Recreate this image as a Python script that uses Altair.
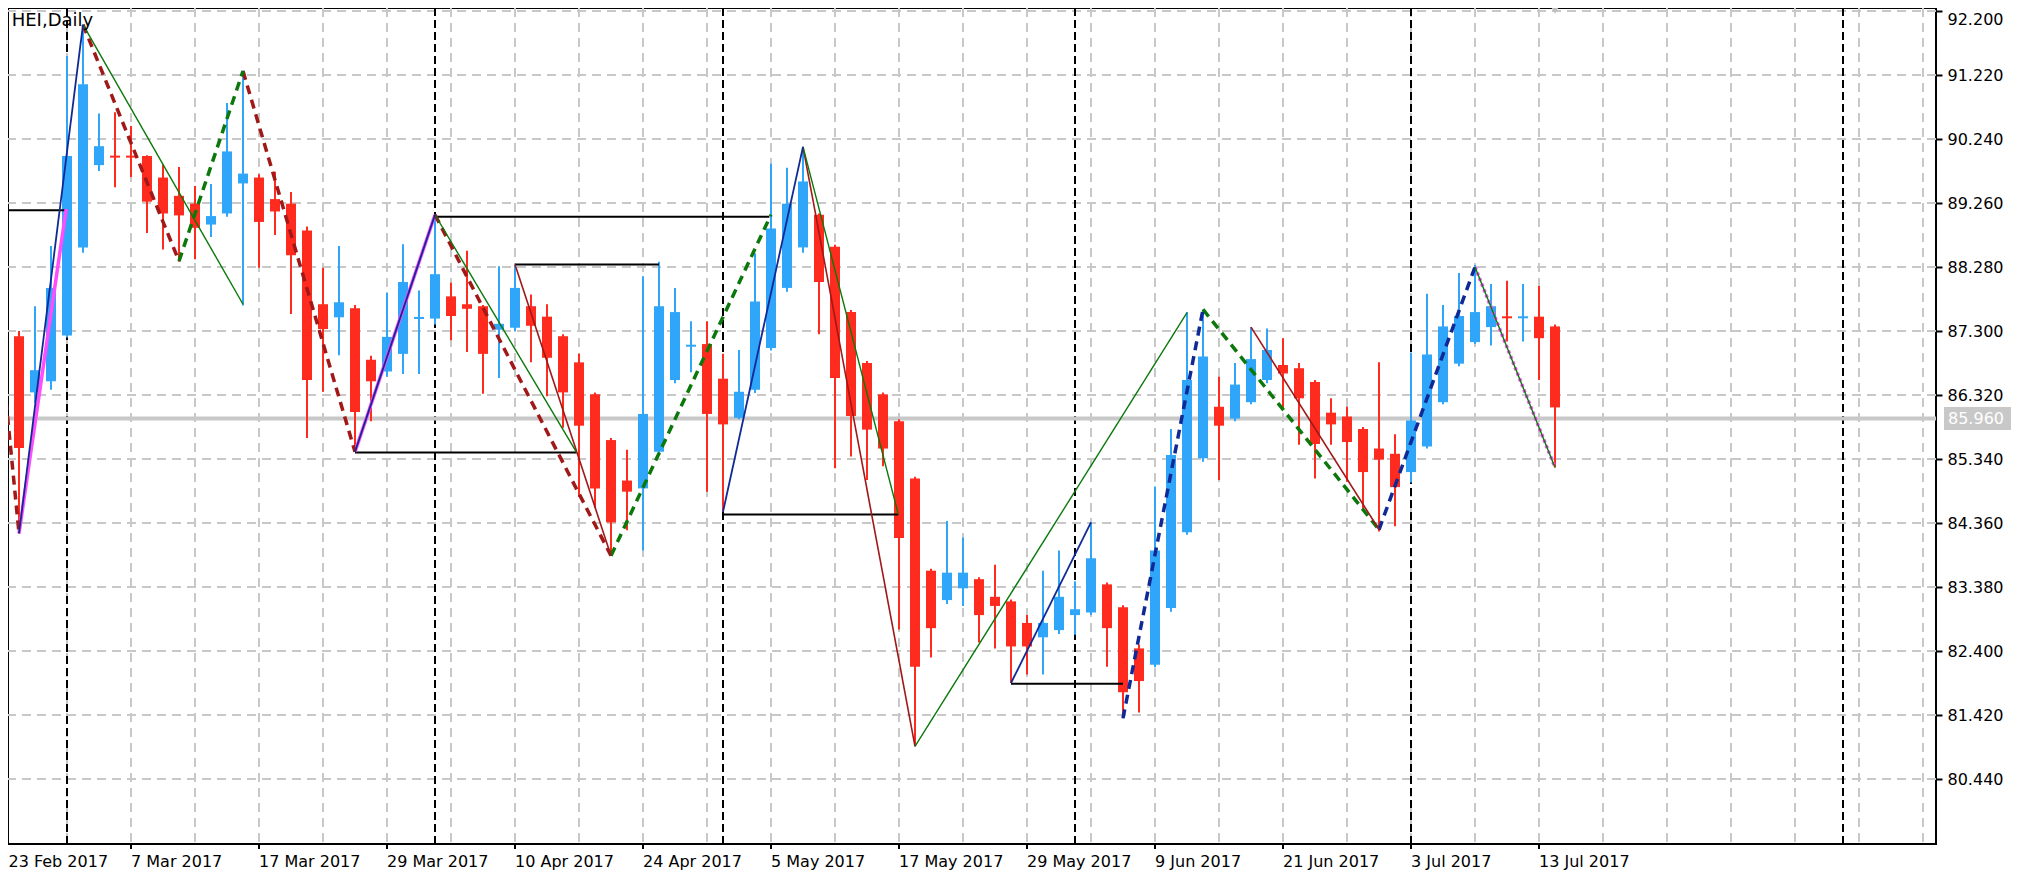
import altair as alt
import pandas as pd

FONT = "DejaVu Sans"
BLUE = "#30A6FA"
RED = "#FF2B1E"
DRED = "#A01818"
GREEN = "#0A780A"
NAVY = "#0F2A94"
MAGENTA = "#FF4CFF"
GRID = "#C8C8C8"

title_text = "HEI,Daily"

# ---- daily OHLC, bar index 0 = 23 Feb 2017 ... 97 = 14 Jul 2017 ----
opens = [87.35, 87.22, 86.36, 86.53, 87.23, 88.58, 89.84, 89.98, 89.98, 89.98,
         89.65, 89.37, 89.25, 88.93, 89.10, 89.56, 89.65, 89.32, 89.25, 88.84,
         87.71, 87.51, 87.65, 86.86, 86.68, 86.95, 87.49, 87.49, 87.83, 87.71,
         87.68, 87.32, 87.35, 87.68, 87.52, 87.22, 86.82, 86.33, 85.63, 85.01,
         84.89, 85.45, 86.55, 87.06, 87.10, 86.57, 85.97, 86.40, 87.04, 87.96,
         88.58, 89.08, 88.59, 87.59, 86.81, 86.33, 85.92, 85.04, 83.63, 83.18,
         83.36, 83.50, 83.23, 83.16, 82.83, 82.61, 82.72, 82.95, 82.99, 83.42,
         83.07, 82.44, 82.19, 83.06, 84.22, 85.35, 86.14, 85.96, 86.21, 86.55,
         86.78, 86.73, 86.52, 86.05, 85.99, 85.80, 85.50, 85.42, 85.14, 85.53,
         86.21, 86.80, 87.13, 87.36, 87.52, 87.50, 87.52, 87.37]
highs = [87.45, 87.30, 87.68, 88.60, 91.51, 91.99, 90.63, 90.65, 90.44, 89.99,
         89.85, 89.81, 89.52, 89.55, 90.79, 91.29, 89.70, 89.74, 89.43, 88.90,
         88.27, 88.60, 87.70, 86.92, 87.89, 88.63, 87.92, 89.08, 88.04, 88.53,
         87.70, 88.29, 88.32, 87.86, 87.71, 87.25, 86.95, 86.36, 85.66, 85.48,
         88.14, 88.36, 87.96, 87.45, 87.45, 86.95, 87.01, 88.49, 89.86, 89.80,
         90.12, 89.10, 88.62, 87.62, 86.84, 86.36, 85.95, 85.07, 83.66, 84.39,
         84.14, 83.53, 83.72, 83.19, 82.95, 83.63, 83.94, 83.47, 84.37, 83.45,
         83.10, 82.50, 84.92, 85.80, 87.59, 87.63, 86.60, 86.81, 87.36, 87.34,
         87.19, 86.81, 86.55, 86.27, 86.14, 85.83, 86.82, 85.72, 86.97, 87.87,
         87.70, 88.19, 88.31, 88.02, 88.07, 88.02, 87.99, 87.40]
lows = [86.90, 84.20, 86.20, 86.40, 87.20, 88.50, 89.75, 89.50, 89.66, 88.80,
        88.55, 88.36, 88.40, 88.74, 89.05, 87.69, 88.27, 88.77, 87.56, 85.66,
        86.37, 86.93, 85.45, 85.92, 86.60, 86.64, 86.64, 87.40, 87.16, 86.98,
        86.34, 86.58, 87.30, 86.82, 86.30, 85.82, 84.76, 84.59, 83.86, 84.25,
        83.94, 85.40, 86.50, 86.67, 84.84, 84.53, 85.95, 86.35, 87.00, 87.90,
        88.50, 87.25, 85.20, 85.38, 85.02, 85.23, 82.73, 80.94, 82.30, 83.12,
        83.09, 82.53, 82.44, 81.91, 82.04, 82.04, 82.66, 82.65, 82.95, 82.16,
        81.37, 81.46, 82.15, 83.00, 84.18, 85.30, 85.02, 85.92, 86.18, 86.50,
        86.11, 85.56, 85.04, 85.56, 84.99, 84.58, 84.23, 84.31, 84.98, 85.50,
        86.18, 86.76, 87.10, 87.08, 87.14, 87.14, 86.55, 85.21]
closes = [87.08, 85.51, 86.70, 87.96, 89.98, 91.08, 90.13, 89.96, 89.96, 89.28,
          89.10, 89.07, 88.88, 89.06, 90.05, 89.71, 88.97, 89.13, 88.46, 86.55,
          87.33, 87.74, 86.06, 86.53, 87.21, 88.05, 87.51, 88.17, 87.53, 87.64,
          86.95, 87.41, 87.96, 87.38, 86.89, 86.36, 85.85, 84.89, 84.37, 84.84,
          86.03, 87.68, 87.59, 87.09, 86.03, 85.87, 86.37, 87.75, 88.87, 89.25,
          89.59, 88.05, 86.58, 86.00, 85.79, 85.50, 84.13, 82.16, 82.75, 83.60,
          83.60, 82.95, 83.09, 82.47, 82.47, 82.83, 83.23, 83.04, 83.82, 82.75,
          81.77, 81.94, 83.94, 85.40, 86.55, 86.91, 85.85, 86.48, 86.87, 87.01,
          86.65, 86.27, 85.57, 85.87, 85.60, 85.14, 85.33, 84.91, 85.93, 86.94,
          87.37, 87.53, 87.59, 87.68, 87.50, 87.52, 87.19, 86.13]

# ---- axis labels / ticks ----
date_tick_i = [0, 8, 16, 24, 32, 40, 48, 56, 64, 72, 80, 88, 96]
date_labels = ["23 Feb 2017", "7 Mar 2017", "17 Mar 2017", "29 Mar 2017",
               "10 Apr 2017", "24 Apr 2017", "5 May 2017", "17 May 2017",
               "29 May 2017", "9 Jun 2017", "21 Jun 2017", "3 Jul 2017",
               "13 Jul 2017"]
price_ticks = [80.44, 81.42, 82.40, 83.38, 84.36, 85.34, 86.32, 87.30,
               88.28, 89.26, 90.24, 91.22, 92.20]
grid_i = list(range(0, 121, 4))
month_sep_i = [4, 27, 45, 67, 88, 115]   # 1 Mar, 3 Apr, 2 May, 1 Jun, 3 Jul, 1 Aug
current_price = [85.96]
shift_marker_i = [97]

# ---- zigzag / objects: segments of (bar index, price) ----
dred_dashed = [[(-1, 89.20), (1, 84.20)], [(5, 91.99), (11, 88.37)],
               [(15, 91.28), (22, 85.45)], [(27, 89.08), (38, 83.86)]]
green_dashed = [[(11, 88.37), (15, 91.28)], [(38, 83.86), (48, 89.08)],
                [(75, 87.63), (86, 84.26)]]
navy_dashed = [[(70, 81.37), (75, 87.63)], [(86, 84.26), (92, 88.28)]]
navy_thin = [[(1, 84.20), (5, 91.99)], [(22, 85.45), (27, 89.08)],
             [(45, 84.53), (50, 90.12)], [(63, 81.91), (68, 84.37)]]
magenta_solid = [[(1, 84.20), (3.95, 89.17)], [(22, 85.45), (27, 89.08)]]
magenta_dotted = [[(92, 88.28), (97, 85.21)]]
green_thin = [[(5, 91.99), (15, 87.71)], [(27, 89.08), (35.85, 85.44)],
              [(50, 90.12), (55.96, 84.49)], [(57, 80.94), (74, 87.58)],
              [(92, 88.28), (97, 85.21)]]
dred_thin = [[(32, 88.32), (38, 83.86)], [(50, 90.12), (57, 80.94)],
             [(78, 87.36), (86, 84.26)]]
black_levels = [[(-1, 89.15), (3.9, 89.15)], [(22, 85.44), (35.85, 85.44)],
                [(27, 89.05), (47.9, 89.05)], [(32, 88.32), (41, 88.32)],
                [(45, 84.49), (55.96, 84.49)], [(63, 81.90), (70, 81.90)]]

# ---- scales ----
X_DOMAIN = [0.3125, 120.8125]
Y_DOMAIN = [79.445, 92.246]
PLOT_W, PLOT_H = 1928, 836

xscale = alt.Scale(domain=X_DOMAIN, nice=False, zero=False)
yscale = alt.Scale(domain=Y_DOMAIN, nice=False, zero=False)
yaxis = alt.Axis(orient="right", values=price_ticks, format=".3f", grid=False,
                 domain=False, ticks=True, tickSize=6, tickWidth=2,
                 tickColor="black", labelFont=FONT, labelFontSize=16,
                 labelColor="black", labelPadding=5, title=None,
                 labelOverlap=False, labelBound=False,
                 labelBaseline=alt.condition("datum.value > 92", alt.value("top"),
                                             alt.value("middle")))


def X(f):
    return alt.X(f"{f}:Q", scale=xscale, axis=None)


def Y(f):
    return alt.Y(f"{f}:Q", scale=yscale, axis=yaxis)


def seg_df(segs):
    rows = []
    for k, s in enumerate(segs):
        for (i, p) in s:
            rows.append({"seg": k, "i": i, "p": p})
    return pd.DataFrame(rows)


def line_layer(segs, color, width, dash=None):
    kw = dict(color=color, strokeWidth=width, clip=True)
    if dash:
        kw["strokeDash"] = dash
    return alt.Chart(seg_df(segs)).mark_line(**kw).encode(
        x=X("i"), y=Y("p"), detail="seg:N")


candles = pd.DataFrame({"i": list(range(len(opens))), "open": opens,
                        "high": highs, "low": lows, "close": closes})
candle_color = alt.condition("datum.close < datum.open", alt.value(RED), alt.value(BLUE))

hgrid = alt.Chart(pd.DataFrame({"p": price_ticks})).mark_rule(
    color=GRID, strokeWidth=2, strokeDash=[9, 6], clip=True).encode(y=Y("p"))
vgrid = alt.Chart(pd.DataFrame({"i": grid_i})).mark_rule(
    color=GRID, strokeWidth=2, strokeDash=[9, 6], clip=True).encode(x=X("i"))
seps = alt.Chart(pd.DataFrame({"i": month_sep_i})).mark_rule(
    color="black", strokeWidth=2, strokeDash=[8, 4], clip=True).encode(x=X("i"))
price_line = alt.Chart(pd.DataFrame({"p": current_price})).mark_rule(
    color=GRID, strokeWidth=4, clip=True).encode(y=Y("p"))

wicks = alt.Chart(candles).mark_rule(strokeWidth=2, clip=True).encode(
    x=X("i"), y=Y("low"), y2=alt.Y2("high"), color=candle_color)
bodies = alt.Chart(candles).transform_calculate(
    x0="datum.i - 0.3125", x1="datum.i + 0.3125",
    mid="(datum.open + datum.close) / 2",
    half="max(abs(datum.open - datum.close) / 2, 0.0153)",
).transform_calculate(
    top="datum.mid + datum.half", bot="datum.mid - datum.half"
).mark_rect(clip=True).encode(
    x=X("x0"), x2=alt.X2("x1"), y=Y("top"), y2=alt.Y2("bot"), color=candle_color)

ticks_df = pd.DataFrame({"i": date_tick_i, "label": date_labels})
ticks_df["xpos"] = ticks_df["i"].clip(lower=X_DOMAIN[0] + 0.03)
xticks = alt.Chart(ticks_df).mark_rule(color="black", strokeWidth=2, clip=False).encode(
    x=X("i"), y=alt.value(PLOT_H), y2=alt.value(PLOT_H + 5))
xlabels = alt.Chart(ticks_df).mark_text(
    align="left", baseline="alphabetic", font=FONT, fontSize=16, color="black",
    clip=False).encode(x=X("xpos"), y=alt.value(PLOT_H + 23), text="label:N")

title = alt.Chart(pd.DataFrame({"t": [title_text]})).mark_text(
    align="left", baseline="alphabetic", font=FONT, fontSize=18, color="black").encode(
    x=alt.value(3.7), y=alt.value(18), text="t:N")

price_box = alt.Chart(pd.DataFrame({"p": current_price})).mark_rect(
    color=GRID, clip=False, yOffset=-11.5, y2Offset=11.5).encode(
    x=alt.value(PLOT_W + 8), x2=alt.value(PLOT_W + 75), y=Y("p"), y2=alt.Y2("p"))
price_text = alt.Chart(pd.DataFrame({"p": current_price})).mark_text(
    align="left", baseline="middle", font=FONT, fontSize=16, color="white",
    clip=False).encode(x=alt.value(PLOT_W + 12), y=Y("p"),
                       text=alt.Text("p:Q", format=".3f"))

shift_marker = alt.Chart(pd.DataFrame({"i": shift_marker_i})).mark_point(
    shape="triangle-down", filled=True, size=80, color="#BEBEBE", opacity=1,
    clip=False).encode(x=X("i"), y=alt.value(2))

chart = alt.layer(
    hgrid, vgrid, seps, price_line, wicks, bodies,
    line_layer(black_levels, "black", 2),
    line_layer(magenta_solid, MAGENTA, 3.5),
    line_layer(magenta_dotted, MAGENTA, 3.5, [3, 3]),
    line_layer(dred_dashed, DRED, 3.5, [9, 6]),
    line_layer(green_dashed, GREEN, 3.5, [9, 6]),
    line_layer(navy_dashed, NAVY, 3.5, [9, 6]),
    line_layer(dred_thin, DRED, 1.6),
    line_layer(green_thin, GREEN, 1.4),
    line_layer(navy_thin, NAVY, 1.8),
    xticks, xlabels, title, price_box, price_text, shift_marker,
).properties(
    width=PLOT_W, height=PLOT_H,
    autosize=alt.AutoSizeParams(type="none"),
    padding={"left": 0, "top": 0, "right": 90, "bottom": 30},
    background="white",
).configure_view(stroke="black", strokeWidth=2)

chart.save("out.html", embed_options={"renderer": "svg", "actions": False})
